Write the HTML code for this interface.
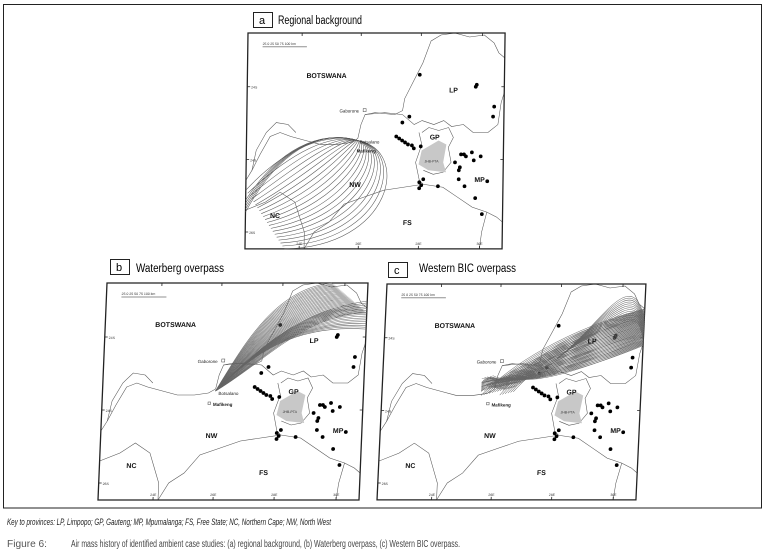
<!DOCTYPE html>
<html><head><meta charset="utf-8"><style>
html,body{margin:0;padding:0;background:#fff;}
svg{display:block;font-family:"Liberation Sans",sans-serif;}
.lbl{font-weight:bold;font-size:7px;fill:#111;}
.sm{font-size:4.5px;fill:#222;}
.tk{font-size:3.5px;fill:#333;}
</style></head><body>
<svg id="s" width="765" height="556" viewBox="0 0 765 556" xmlns="http://www.w3.org/2000/svg">
<rect x="0" y="0" width="765" height="556" fill="#fff"/>
<rect x="3.5" y="4.5" width="758" height="503.5" fill="none" stroke="#222" stroke-width="1"/>
<defs>
<g id="base">
 <g fill="none" stroke="#555" stroke-width="0.55">
  <polyline points="0,148 6,138 14,122 24,104 34,100 45,104 60,108 75,112 92,112 106,110 113,106 116,92 120,82 130,80 150,82 158,78 160,66 168,50 178,30 186,8 196,2 210,0"/>
  <polyline points="120,82 140,80 158,82 170,92 178,88 190,92 200,88 208,94 220,92 230,100 245,100 255,92 258,70 261,60"/>
  <polyline points="175,100 178,112 172,130 176,148 180,152 160,155 140,158 120,165 100,172 85,190 70,200 60,217"/>
  <polyline points="0,178 20,170 35,160 50,170 55,185 60,200 60,217"/>
  <polyline points="180,152 200,155 215,165 230,175 245,180 255,185 261,190"/>
  <polyline points="178,100 185,95 195,98 205,95 210,105 205,115 208,130 200,140 190,142 180,138"/>
  <polyline points="245,180 240,200 238,217"/>
  <polyline points="210,0 225,4 240,2 250,10 255,20 261,25"/>
  <polyline points="6,138 10,118 20,100 30,90 42,92 50,100"/>
 </g>
 <path d="M178,118 L195,108 L203,112 L200,130 L203,140 L185,138 L175,132 Z" fill="#c8c8c8"/>
 <g stroke="#222" stroke-width="0.5"><line x1="15" y1="14" x2="60" y2="14"/></g>
 <g stroke="#222" stroke-width="0.8">
  <line x1="55" y1="217" x2="55" y2="214"/><line x1="115" y1="217" x2="115" y2="214"/><line x1="176" y1="217" x2="176" y2="214"/><line x1="238" y1="217" x2="238" y2="214"/>
  <line x1="55" y1="0" x2="55" y2="3"/><line x1="115" y1="0" x2="115" y2="3"/><line x1="176" y1="0" x2="176" y2="3"/><line x1="238" y1="0" x2="238" y2="3"/>
  <line x1="0" y1="54" x2="3" y2="54"/><line x1="0" y1="127" x2="3" y2="127"/><line x1="0" y1="200" x2="3" y2="200"/>
  <line x1="261" y1="54" x2="258" y2="54"/><line x1="261" y1="127" x2="258" y2="127"/>
 </g>
 <g fill="#000" id="dots"></g>
 <rect x="118" y="76" width="3" height="3" fill="#fff" stroke="#444" stroke-width="0.5"/>
 <rect x="0" y="0" width="261" height="217" fill="none" stroke="#222" stroke-width="1.3"/>
</g>
</defs>

<!-- panel a -->
<rect x="253.5" y="12.5" width="19" height="15" fill="#fff" stroke="#222"/>
<text x="259" y="24" font-size="11">a</text>
<text x="278" y="24" font-size="11.5" textLength="84" lengthAdjust="spacingAndGlyphs">Regional background</text>
<g transform="matrix(0.985,0,-0.014,0.995,248,33)">
 <use href="#base"/>
 <g id="trA" fill="none" stroke="#555" stroke-width="0.55"></g>
 <text class="lbl" x="60" y="45">BOTSWANA</text>
 <text class="sm" x="94" y="80">Gaborone</text>
 <text class="sm" x="115" y="111" fill="#777">Botsalano</text>
 <text class="sm" x="112" y="120" font-weight="bold">Mafikeng</text>
 <text class="lbl" x="205" y="60">LP</text>
 <text class="lbl" x="186" y="107">GP</text>
 <text class="lbl" x="232" y="150">MP</text>
 <text class="lbl" x="105" y="155">NW</text>
 <text class="lbl" x="25" y="186">NC</text>
 <text class="lbl" x="160" y="193">FS</text>
 <text class="tk" x="181" y="130">JHB-PTA</text>
 <text class="tk" x="15" y="12">25  0  25  50  75 100 km</text>
 <text class="tk" x="52" y="213">24E</text><text class="tk" x="112" y="213">26E</text><text class="tk" x="173" y="213">28E</text><text class="tk" x="235" y="213">30E</text>
 <text class="tk" x="4" y="56">24S</text><text class="tk" x="4" y="129">24S</text><text class="tk" x="4" y="202">26S</text>
</g>

<!-- panel b -->
<rect x="110.5" y="259.5" width="19" height="15" fill="#fff" stroke="#222"/>
<text x="116" y="271" font-size="11">b</text>
<text x="136" y="272" font-size="11.5" textLength="88" lengthAdjust="spacingAndGlyphs">Waterberg overpass</text>
<g transform="matrix(1,0,-0.0415,1,107,283)">
 <use href="#base"/>
 <g id="trB" fill="none" stroke="#666" stroke-width="0.55"></g>
 <text class="lbl" x="50" y="44">BOTSWANA</text>
 <text class="sm" x="94" y="80">Gaborone</text>
 <text class="sm" x="116" y="112" fill="#777">Botsalano</text>
 <text class="sm" x="111" y="123" font-weight="bold">Mafikeng</text>
 <rect x="106" y="119" width="2.5" height="2.5" fill="#fff" stroke="#444" stroke-width="0.5"/>
 <text class="lbl" x="205" y="60">LP</text>
 <text class="lbl" x="186" y="111">GP</text>
 <text class="lbl" x="232" y="150">MP</text>
 <text class="lbl" x="105" y="155">NW</text>
 <text class="lbl" x="27" y="185">NC</text>
 <text class="lbl" x="160" y="192">FS</text>
 <text class="tk" x="181" y="130">JHB-PTA</text>
 <text class="tk" x="15" y="12">25  0  25  50  75 100 km</text>
 <text class="tk" x="52" y="213">24E</text><text class="tk" x="112" y="213">26E</text><text class="tk" x="173" y="213">28E</text><text class="tk" x="235" y="213">30E</text>
 <text class="tk" x="4" y="56">24S</text><text class="tk" x="4" y="129">24S</text><text class="tk" x="4" y="202">26S</text>
</g>

<!-- panel c -->
<rect x="388.5" y="262.5" width="19" height="15" fill="#fff" stroke="#222"/>
<text x="394" y="274" font-size="11">c</text>
<text x="419" y="272" font-size="11.5" textLength="97" lengthAdjust="spacingAndGlyphs">Western BIC overpass</text>
<g transform="matrix(0.992,0,-0.046,0.995,387,284)">
 <use href="#base"/>
 <g id="trC" fill="none" stroke="#666" stroke-width="0.5"></g>
 <text class="lbl" x="50" y="44">BOTSWANA</text>
 <text class="sm" x="94" y="80">Gaborone</text>
 <text class="sm" x="111" y="123" font-weight="bold">Mafikeng</text>
 <rect x="106" y="119" width="2.5" height="2.5" fill="#fff" stroke="#444" stroke-width="0.5"/>
 <text class="lbl" x="205" y="60">LP</text>
 <text class="lbl" x="186" y="111">GP</text>
 <text class="lbl" x="232" y="150">MP</text>
 <text class="lbl" x="105" y="155">NW</text>
 <text class="lbl" x="27" y="185">NC</text>
 <text class="lbl" x="160" y="192">FS</text>
 <text class="tk" x="181" y="130">JHB-PTA</text>
 <text class="tk" x="15" y="12">25  0  25  50  75 100 km</text>
 <text class="tk" x="52" y="213">24E</text><text class="tk" x="112" y="213">26E</text><text class="tk" x="173" y="213">28E</text><text class="tk" x="235" y="213">30E</text>
 <text class="tk" x="4" y="56">24S</text><text class="tk" x="4" y="129">24S</text><text class="tk" x="4" y="202">26S</text>
</g>

<text x="7" y="525" font-size="9" font-style="italic" fill="#222" textLength="324" lengthAdjust="spacingAndGlyphs">Key to provinces: LP, Limpopo; GP, Gauteng; MP, Mpumalanga; FS, Free State; NC, Northern Cape; NW, North West</text>
<text x="7" y="547" font-size="10" fill="#555" textLength="40" lengthAdjust="spacingAndGlyphs">Figure 6:</text>
<text x="71" y="547" font-size="10" fill="#444" textLength="389" lengthAdjust="spacingAndGlyphs">Air mass history of identified ambient case studies: (a) regional background, (b) Waterberg overpass, (c) Western BIC overpass.</text>
</svg>
<script>
var NS="http://www.w3.org/2000/svg";
function P(g,d){var p=document.createElementNS(NS,"path");p.setAttribute("d",d);g.appendChild(p);}
var D=[[175,42],[232,54],[233,52],[251,74],[250,84],[165,84],[158,90],[152,104],[155,106],[158,108],[161,110],[164,112],[168,113],[170,116],[177,114],[218,122],[221,122],[223,124],[229,120],[238,124],[231,128],[212,130],[217,135],[216,138],[216,147],[222,154],[245,149],[233,166],[240,182],[176,150],[180,147],[178,153],[176,156],[195,154]];
var dg=document.getElementById("dots");
D.forEach(function(d){var c=document.createElementNS(NS,"circle");c.setAttribute("cx",d[0]);c.setAttribute("cy",d[1]);c.setAttribute("r",1.9);dg.appendChild(c);});
var L=function(a,b,t){return a+(b-a)*t;};
var A=document.getElementById("trA");
for(var i=0;i<=20;i++){var t=i/20;
 P(A,"M113,108 C"+L(80,168,t)+","+L(100,118,t)+" "+L(40,150,t)+","+L(115,215,t)+" "+L(0,40,t)+","+L(158,217,t));}
for(var i=0;i<5;i++){P(A,"M113,108 C85,100 40,105 "+(0)+","+(168+i*3));}
var B=document.getElementById("trB");
for(var i=0;i<=30;i++){var t=i/30;
 P(B,"M113,108 C"+L(140,160,t)+","+L(60,80,t)+" "+L(170,200,t)+","+L(5,30,t)+" "+L(225,261,t)+","+L(0,30,t));}
for(var i=0;i<16;i++){var t=i/16;
 P(B,"M113,108 C150,70 190,"+(28+t*14)+" 261,"+(18+t*30));}
var C=document.getElementById("trC");
for(var i=0;i<=60;i++){var t=i/60;var s=(i*7%13)/13;
 P(C,"M"+L(100,135,s)+","+L(112,92,t)+" C"+L(130,155,s)+","+L(80,105,t)+" "+L(185,205,t)+","+L(45,85,t)+" 261,"+L(25,62,t));}
for(var i=0;i<14;i++){P(C,"M175,75 C205,50 222,"+(22+i*2)+" 238,"+(14+i*2)+" S258,"+(28+i)+" 261,"+(32+i*2));}
for(var i=0;i<10;i++){P(C,"M100,"+(108-i)+" q6,-8 14,-4 t14,-3");}
</script>
</body></html>
